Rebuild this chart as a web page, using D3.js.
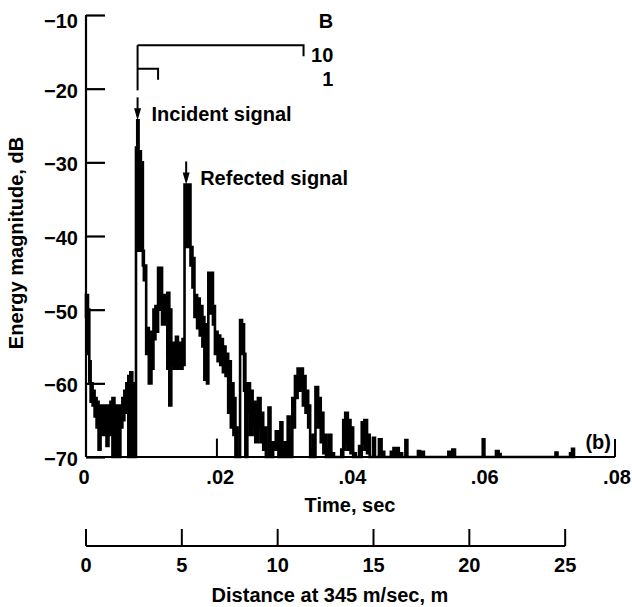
<!DOCTYPE html>
<html>
<head>
<meta charset="utf-8">
<script src="https://cdn.jsdelivr.net/npm/d3@7"></script>
<style>
  html, body { margin: 0; padding: 0; background: #fff; }
  svg text { font-family: "Liberation Sans", Arial, Helvetica, sans-serif; font-weight: bold; fill: #000; }
</style>
</head>
<body>
<svg id="chart" width="632" height="607"></svg>
<script>
// Energy-time curve: step segments with an upper and lower edge of the dark band (ms, dB)
const timeMs = [0.0,0.3,0.5,0.7,1.0,1.3,1.6,1.9,2.2,2.5,2.8,3.1,3.4,3.7,4.0,4.3,4.6,4.9,5.2,5.5,5.8,6.1,6.4,6.7,7.0,7.3,
  7.56,7.75,7.95,8.3,8.6,8.75,9.1,9.5,9.9,10.2,10.5,10.9,11.5,11.9,12.3,12.6,12.9,13.3,13.6,13.9,14.3,14.6,
  14.9,15.8,16.1,16.4,16.8,17.2,17.6,17.9,18.3,18.5,19.2,19.5,19.9,20.3,20.7,21.1,21.5,21.9,22.3,22.6,22.9,
  23.3,23.6,23.9,24.1,24.4,24.8,25.2,25.6,26.0,26.4,26.8,27.2,27.6,27.9,28.3,28.7,29.1,29.4,29.7,30.1,30.5,30.8,
  31.2,31.6,32.0,32.4,32.8,33.2,33.6,33.9,34.3,34.7,35.1,35.5,35.9,36.3,36.7,37.1,37.5,38.6,38.9,39.2,39.6,40.0,40.4,40.8,
  41.3,41.7,42.1,42.5,42.9,43.4,43.7,44.3,44.7,45.1,46.1,46.5,47.3,47.8,48.3,48.6,50.2,50.5,50.8,51.1,54.8,55.4,55.8,
  60.0,60.25,62.0,62.4,62.7,71.0,71.3,73.2,73.5,73.8];
const upperDb = [-48,-50,-57,-60,-61,-62,-62.5,-63,-63,-64,-63,-64.5,-63,-62.5,-62,-63,-65,-63,-63,-62,-61,-60,-59,-58.5,-60,-66,
  -28,-24.3,-28.5,-30,-42,-44,-52.5,-54,-53,-50,-49.5,-44.3,-48.5,-48,-47.7,-50,-54.5,-55,-53.7,-54.5,-55.5,-54,
  -33,-41.5,-43,-48,-48.5,-49.5,-51,-52,-53,-45,-49.5,-53,-53.5,-54,-55,-56,-57,-60,-62,-66,-70,
  -51.4,-52,-56,-66,-60,-61,-62.5,-63,-62,-64,-66,-70,-63.3,-68,-68,-66.5,-68.5,-65.3,-69,-68,-64.5,-67.5,
  -62,-59,-58,-58,-59,-61,-63,-69,-67,-60.5,-62,-64,-67,-69,-67,-69.5,-70,-69,-65,-64,-65,-66,-69.5,-70,
  -68.5,-65.3,-65,-67,-70,-67.4,-70,-67.6,-69.3,-70,-69.3,-68.8,-69.5,-70,-67.7,-70,-69.2,-70,-69.3,-70,-69.3,-69,-70,
  -67.6,-70,-69.2,-69.6,-70,-69.4,-70,-69.5,-68.9,-70];
const lowerDb = [-51,-56,-60,-62.5,-63,-64.5,-66,-69,-65,-67,-66,-68.5,-66,-67,-70,-68,-70,-70,-66,-65,-64,-63,-70,-62,-70,-70,
  -42,-42,-42,-42,-44,-46,-56,-60,-58,-54,-53,-50,-52,-51,-58,-63,-57.5,-58,-57,-58,-58,-57.5,
  -41.5,-44,-47,-51,-52.5,-53.5,-55,-59.5,-60,-50.5,-52,-56,-57,-57.5,-58.5,-59,-64,-66,-67,-70,-70,
  -54,-56,-61,-70,-64,-67,-66,-68,-66,-68,-69,-70,-65,-70,-69,-69,-70,-67,-70,-70,-67,-70,
  -66,-62,-61,-60.5,-63,-64,-66,-70,-70,-64,-66,-68,-69.5,-70,-70,-70,-70,-70,-69,-68,-69,-69.5,-70,-70,
  -70,-68,-69,-69.5,-70,-70,-70,-69.5,-70,-70,-70,-70,-70,-70,-70,-70,-70,-70,-70,-70,-70,-70,-70,
  -70,-70,-70,-70,-70,-70,-70,-70,-70,-70];

// Isolated thin returns rising from the floor (ms, dB)
const spikeMs = [19.8];
const spikeDb = [-67.5];

// Axis ticks and labels
const dbTicks = [-10, -20, -30, -40, -50, -60, -70];
const timeTicks = [0, 0.02, 0.04, 0.06, 0.08];
const timeTickLabels = ["0", ".02", ".04", ".06", ".08"];
const distanceTicks = [0, 5, 10, 15, 20, 25];
const soundSpeed = 345; // m/sec

// Arrow annotations (ms, dB at arrow tip)
const arrowLabels = ["Incident signal", "Refected signal"];
const arrowMs = [7.8, 15.15];
const arrowDb = [-24.3, -33];

// Window brackets: start / end (ms) and level (dB), with right-hand labels
const bracketStartMs = [7.8, 7.8];
const bracketEndMs = [32.9, 10.9];
const bracketDb = [-14.1, -17.3];
const bracketLabels = ["10", "1"];
const bracketHeader = "B";

const svg = d3.select("#chart");
const x = d3.scaleLinear().domain([0, 0.08]).range([86, 615]);
const y = d3.scaleLinear().domain([-70, -10]).range([457, 15]);
const xDist = d3.scaleLinear().domain([0, 0.08 * soundSpeed]).range([86, 615]);
const FS = 20;

const rows = timeMs.map((t, i) => ({ t: t / 1000, hi: upperDb[i], lo: lowerDb[i] }));

// Signal band
const area = d3.area()
  .x(d => x(d.t))
  .y0(d => y(d.lo))
  .y1(d => y(d.hi))
  .curve(d3.curveStepAfter);

svg.append("path")
  .datum(rows)
  .attr("d", area)
  .attr("fill", "#000")
  .attr("stroke", "#000")
  .attr("stroke-width", 2.6)
  .attr("stroke-linejoin", "miter");

svg.selectAll("line.spike")
  .data(spikeMs.map((t, i) => ({ t: t / 1000, v: spikeDb[i] })))
  .join("line")
  .attr("class", "spike")
  .attr("x1", d => x(d.t)).attr("x2", d => x(d.t))
  .attr("y1", y(-70)).attr("y2", d => y(d.v))
  .attr("stroke", "#000").attr("stroke-width", 2);

// Y axis with inward ticks
const yAxis = svg.append("g").attr("transform", `translate(${x(0)},0)`)
  .call(d3.axisRight(y).tickValues(dbTicks).tickSize(19).tickFormat(""));
yAxis.select(".domain").attr("d", `M0,${y(-10)}V${y(-70)}`).attr("stroke-width", 2.2);
yAxis.selectAll(".tick line").attr("stroke-width", 2.2);

svg.selectAll("text.ylab")
  .data(dbTicks)
  .join("text")
  .attr("class", "ylab")
  .attr("x", 78)
  .attr("y", d => y(d) + (d === -10 ? 6 : 2))
  .attr("dy", "0.35em")
  .attr("text-anchor", "end")
  .attr("font-size", FS)
  .text(d => d3.format("d")(d));

// Time axis
svg.append("line")
  .attr("x1", x(0)).attr("x2", x(0.08))
  .attr("y1", y(-70)).attr("y2", y(-70))
  .attr("stroke", "#000").attr("stroke-width", 2.2);
svg.append("line")
  .attr("x1", x(0.08)).attr("x2", x(0.08))
  .attr("y1", y(-70)).attr("y2", y(-70) - 18)
  .attr("stroke", "#000").attr("stroke-width", 2);

svg.selectAll("text.xlab")
  .data(timeTicks)
  .join("text")
  .attr("class", "xlab")
  .attr("x", d => x(d) + (d === 0 ? -2 : 2))
  .attr("y", 484)
  .attr("text-anchor", "middle")
  .attr("font-size", FS)
  .text((d, i) => timeTickLabels[i]);

svg.append("text")
  .attr("x", 350).attr("y", 512)
  .attr("text-anchor", "middle")
  .attr("font-size", FS)
  .text("Time, sec");

svg.append("text")
  .attr("x", x(0.08) - 4).attr("y", 449)
  .attr("text-anchor", "end")
  .attr("font-size", FS)
  .text("(b)");

// Y axis title
svg.append("text")
  .attr("transform", "translate(23,243) rotate(-90)")
  .attr("text-anchor", "middle")
  .attr("font-size", FS)
  .text("Energy magnitude, dB");

// Distance axis
const dAxisY = 546;
const dAxis = svg.append("g").attr("transform", `translate(0,${dAxisY})`);
dAxis.append("line")
  .attr("x1", xDist(0)).attr("x2", xDist(25))
  .attr("stroke", "#000").attr("stroke-width", 2);
dAxis.selectAll("line.dtick")
  .data(distanceTicks)
  .join("line")
  .attr("class", "dtick")
  .attr("x1", d => xDist(d)).attr("x2", d => xDist(d))
  .attr("y1", 0).attr("y2", -17)
  .attr("stroke", "#000").attr("stroke-width", 2);
dAxis.selectAll("text")
  .data(distanceTicks)
  .join("text")
  .attr("x", d => xDist(d))
  .attr("y", 26)
  .attr("text-anchor", "middle")
  .attr("font-size", FS)
  .text(d => d);

svg.append("text")
  .attr("x", 330).attr("y", 602)
  .attr("text-anchor", "middle")
  .attr("font-size", FS)
  .text("Distance at 345 m/sec, m");

// Brackets
const bracketG = svg.append("g").attr("stroke", "#000").attr("stroke-width", 2).attr("fill", "none");
bracketStartMs.forEach((s, i) => {
  const x0 = x(s / 1000), x1 = x(bracketEndMs[i] / 1000), yy = y(bracketDb[i]);
  bracketG.append("path").attr("d", `M${x0},${yy}H${x1}V${yy + 11}`);
});
// vertical stem from the upper bracket down toward the incident arrow
bracketG.append("line")
  .attr("x1", x(bracketStartMs[0] / 1000)).attr("x2", x(bracketStartMs[0] / 1000))
  .attr("y1", y(bracketDb[0])).attr("y2", y(arrowDb[0]) - 30);

const labelX = x(0.0374);
svg.append("text").attr("x", labelX).attr("y", 28).attr("text-anchor", "end").attr("font-size", FS).text(bracketHeader);
bracketLabels.forEach((lab, i) => {
  svg.append("text")
    .attr("x", labelX)
    .attr("y", y(bracketDb[i]) + 17)
    .attr("text-anchor", "end")
    .attr("font-size", FS)
    .text(lab);
});

// Arrows and their labels
arrowLabels.forEach((lab, i) => {
  const ax = x(arrowMs[i] / 1000), tip = y(arrowDb[i]);
  svg.append("line")
    .attr("x1", ax).attr("x2", ax)
    .attr("y1", tip - 23).attr("y2", tip - 4)
    .attr("stroke", "#000").attr("stroke-width", 2);
  svg.append("path")
    .attr("d", `M${ax - 3.5},${tip - 12}L${ax + 3.5},${tip - 12}L${ax},${tip}Z`)
    .attr("fill", "#000");
  svg.append("text")
    .attr("x", ax + 14)
    .attr("y", tip + 1)
    .attr("font-size", FS)
    .text(lab);
});
</script>
</body>
</html>
